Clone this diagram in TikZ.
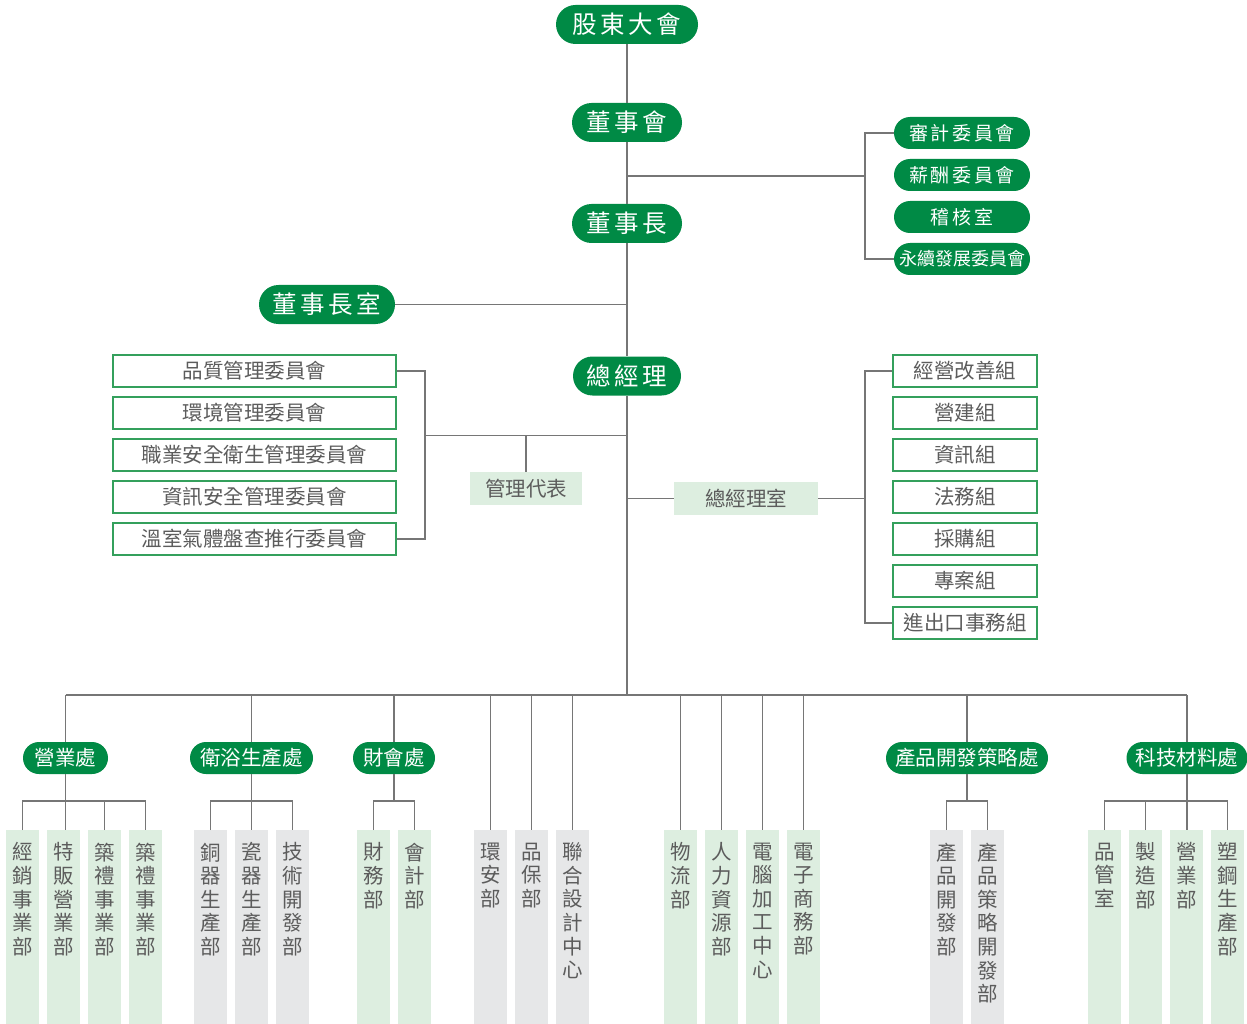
\documentclass[tikz,border=0pt]{standalone}
\usepackage{fontspec}
\setmainfont{Noto Sans CJK TC}
\newfontfamily\cjk{Noto Sans CJK TC}
\newfontfamily\cjkls{Noto Sans CJK TC}[LetterSpace=14]
\definecolor{pillgreen}{RGB}{0,138,69}
\definecolor{boxedge}{RGB}{52,160,92}
\definecolor{lightgreen}{RGB}{221,238,224}
\definecolor{lightgray}{RGB}{230,231,232}
\definecolor{linegray}{RGB}{118,118,118}
\definecolor{textgray}{RGB}{92,92,92}
\begin{document}
\begin{tikzpicture}[x=1pt,y=-1pt,
  conn/.style={draw=linegray, line width=1.25pt},
  pill/.style={fill=pillgreen, text=white, rounded corners=16pt, minimum height=32pt, inner sep=0pt},
  toppill/.style={pill, rounded corners=19.5pt, minimum height=39pt, font=\cjkls\fontsize{24.5}{28}\selectfont},
  sidepill/.style={pill, minimum width=136pt, font=\cjkls\fontsize{19}{22}\selectfont},
  divpill/.style={pill, font=\cjk\fontsize{20.5}{24}\selectfont},
  outlinebox/.style={draw=boxedge, line width=1.2pt, fill=white, minimum height=32pt, inner sep=0pt, text=textgray, font=\cjk\fontsize{20.5}{24}\selectfont},
  tagbox/.style={fill=lightgreen, minimum height=33pt, inner sep=0pt, text=textgray, font=\cjk\fontsize{20.5}{24}\selectfont},
  colbox/.style={minimum width=33pt, minimum height=194pt, inner sep=0pt, anchor=north},
  coltext/.style={anchor=north, inner sep=0pt, align=center, text=textgray, font=\cjk\fontsize{20.5}{23.6}\selectfont}
]
\useasboundingbox (0,0) rectangle (1247,1024);
\fill[white] (0,0) rectangle (1247,1024);

% ---- top of the hierarchy
\node[toppill, minimum width=142pt] (agm) at (627,24.5) {股東大會};
\node[toppill, minimum width=110pt] (board) at (627,122.5) {董事會};
\node[toppill, minimum width=110pt] (chair) at (627,223.5) {董事長};
\node[toppill, minimum width=136pt] (chairoff) at (327,304.5) {董事長室};
\node[toppill, minimum width=108pt] (gm) at (627,376) {總經理};

% ---- board committees
\node[sidepill] (audit) at (962,133) {審計委員會};
\node[sidepill] (pay) at (962,175) {薪酬委員會};
\node[sidepill] (inspect) at (962,217) {稽核室};
\node[sidepill, font=\cjk\fontsize{18}{22}\selectfont] (esg) at (962,259) {永續發展委員會};

% ---- management committees
\node[outlinebox, minimum width=283pt] (q1) at (254.5,371) {品質管理委員會};
\node[outlinebox, minimum width=283pt] (q2) at (254.5,413) {環境管理委員會};
\node[outlinebox, minimum width=283pt] (q3) at (254.5,455) {職業安全衛生管理委員會};
\node[outlinebox, minimum width=283pt] (q4) at (254.5,497) {資訊安全管理委員會};
\node[outlinebox, minimum width=283pt] (q5) at (254.5,539) {溫室氣體盤查推行委員會};
\node[tagbox, minimum width=112pt] (rep) at (526,488.5) {管理代表};

% ---- general manager's office
\node[tagbox, minimum width=144pt] (gmo) at (746,498.5) {總經理室};
\node[outlinebox, minimum width=144pt] (s1) at (965,371) {經營改善組};
\node[outlinebox, minimum width=144pt] (s2) at (965,413) {營建組};
\node[outlinebox, minimum width=144pt] (s3) at (965,455) {資訊組};
\node[outlinebox, minimum width=144pt] (s4) at (965,497) {法務組};
\node[outlinebox, minimum width=144pt] (s5) at (965,539) {採購組};
\node[outlinebox, minimum width=144pt] (s6) at (965,581) {專案組};
\node[outlinebox, minimum width=144pt] (s7) at (965,623) {進出口事務組};

% ---- divisions
\node[divpill, minimum width=85pt] (sales) at (65.5,758) {營業處};
\node[divpill, minimum width=123pt] (bath) at (251.5,758) {衛浴生產處};
\node[divpill, minimum width=82pt] (fin) at (394,758) {財會處};
\node[divpill, minimum width=162pt] (prod) at (967,758) {產品開發策略處};
\node[divpill, minimum width=121pt] (tech) at (1187,758) {科技材料處};

% ---- departments
\foreach \x/\txt/\f [count=\i] in {
  22.5/{經\\銷\\事\\業\\部}/lightgreen,
  63.5/{特\\販\\營\\業\\部}/lightgreen,
  104.5/{築\\禮\\事\\業\\部}/lightgreen,
  145.5/{築\\禮\\事\\業\\部}/lightgreen,
  210.5/{銅\\器\\生\\產\\部}/lightgray,
  251.5/{瓷\\器\\生\\產\\部}/lightgray,
  292.5/{技\\術\\開\\發\\部}/lightgray,
  373.5/{財\\務\\部}/lightgreen,
  414.5/{會\\計\\部}/lightgreen,
  490.5/{環\\安\\部}/lightgray,
  531.5/{品\\保\\部}/lightgray,
  572.5/{聯\\合\\設\\計\\中\\心}/lightgray,
  680.5/{物\\流\\部}/lightgreen,
  721.5/{人\\力\\資\\源\\部}/lightgreen,
  762.5/{電\\腦\\加\\工\\中\\心}/lightgreen,
  803.5/{電\\子\\商\\務\\部}/lightgreen,
  946.5/{產\\品\\開\\發\\部}/lightgray,
  987.5/{產\\品\\策\\略\\開\\發\\部}/lightgray,
  1104.5/{品\\管\\室}/lightgreen,
  1145.5/{製\\造\\部}/lightgreen,
  1186.5/{營\\業\\部}/lightgreen,
  1227.5/{塑\\鋼\\生\\產\\部}/lightgreen}{
  \node[colbox, fill=\f] (col\i) at (\x,830) {};
  \node[coltext] (lab\i) at (\x,842.5) {\txt};
}

% ---- junction points
\coordinate (rb) at (865,176);
\coordinate (lb) at (425,435.5);
\coordinate (gmj) at (627,498.5);
\coordinate (rb2) at (865,498.5);
\coordinate (bus) at (627,695);
\coordinate (sb) at (627,801);

% ---- connectors along the main spine
\draw[conn] (agm.south) -- (board.north);
\draw[conn] (board.south) -- (chair.north);
\draw[conn] (chair.south) -- (gm.north);
\draw[conn] (gm.south) -- (bus);

\draw[conn] (rb -| board.south) -- (rb);
\draw[conn] (audit.west) -| (rb) |- (esg.west);
\draw[conn] (chairoff.east) -- (chairoff.east -| chair.south);

\draw[conn] (q1.east) -| (lb) |- (q5.east);
\draw[conn] (lb) -- (lb -| gm.south);
\draw[conn] (rep.north) -- (rep.north |- lb);

\draw[conn] (gmj) -- (gmo.west);
\draw[conn] (gmo.east) -- (rb2);
\draw[conn] (s1.west) -| (rb2) |- (s7.west);

% ---- bus to divisions and departments
\draw[conn] (sales.north |- bus) -- (tech.north |- bus);
\foreach \n in {sales,bath,fin,prod,tech}
  \draw[conn] (\n.north |- bus) -- (\n.north);
\foreach \i in {10,11,12,13,14,15,16}
  \draw[conn] (col\i.north |- bus) -- (col\i.north);

\draw[conn] (col1.north) -- (col1.north |- sb) -- (col4.north |- sb) -- (col4.north);
\draw[conn] (sales.south) -- (sales.south |- col2.north);
\draw[conn] (col3.north) -- (col3.north |- sb);

\draw[conn] (col5.north) -- (col5.north |- sb) -- (col7.north |- sb) -- (col7.north);
\draw[conn] (bath.south) -- (bath.south |- col6.north);

\draw[conn] (col8.north) -- (col8.north |- sb) -- (col9.north |- sb) -- (col9.north);
\draw[conn] (fin.south) -- (fin.south |- sb);

\draw[conn] (col17.north) -- (col17.north |- sb) -- (col18.north |- sb) -- (col18.north);
\draw[conn] (prod.south) -- (prod.south |- sb);

\draw[conn] (col19.north) -- (col19.north |- sb) -- (col22.north |- sb) -- (col22.north);
\draw[conn] (col20.north) -- (col20.north |- sb);
\draw[conn] (tech.south) -- (tech.south |- col21.north);
\end{tikzpicture}
\end{document}
